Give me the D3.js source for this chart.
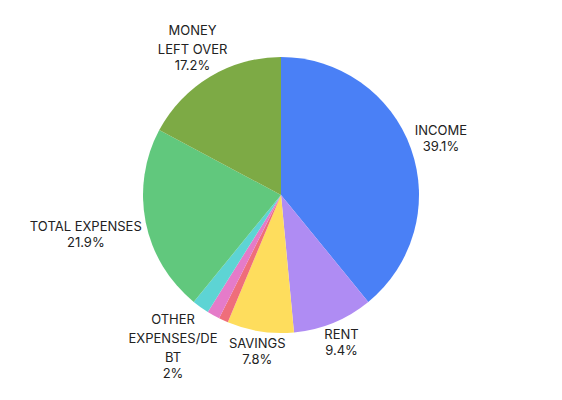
<!DOCTYPE html>
<html>
<head>
<meta charset="utf-8">
<script src="https://cdn.jsdelivr.net/npm/d3@7"></script>
<style>
html,body{margin:0;padding:0;background:#fff;}
svg{display:block;}
text{font-family:Inter,"Open Sans",sans-serif;font-size:13px;fill:#222;}
</style>
</head>
<body>
<svg id="chart" width="562" height="400"></svg>
<script>
const categories = ["INCOME","RENT","SAVINGS","UTILITIES","GROCERIES","OTHER EXPENSES/DEBT","TOTAL EXPENSES","MONEY LEFT OVER"];
const labelLines = [["INCOME"],["RENT"],["SAVINGS"],[],[],["OTHER","EXPENSES/DE","BT"],["TOTAL EXPENSES"],["MONEY","LEFT OVER"]];
const values = [39.1, 9.4, 7.8, 1.1, 1.5, 2.0, 21.9, 17.2];
const pctLabels = ["39.1%","9.4%","7.8%","","","2%","21.9%","17.2%"];
const colors = ["#4a80f6","#af8cf3","#fedd5d","#ef6e7a","#e57bc9","#5dd4d4","#61c87d","#7daa45"];

const svg = d3.select("#chart");
const cx = 281, cy = 195, R = 138;
const g = svg.append("g").attr("transform", `translate(${cx},${cy})`);

const pie = d3.pie().sort(null).value(d => d.v);
const data = pie(values.map((v,i) => ({v, i})));
const arc = d3.arc().innerRadius(0).outerRadius(R);

g.selectAll("path.slice").data(data).join("path")
  .attr("class","slice")
  .attr("d", arc)
  .attr("fill", d => colors[d.data.i]);

const nameLH = 19, pctLH = 16;
data.forEach(d => {
  const i = d.data.i;
  if (!pctLabels[i]) return;
  const lines = labelLines[i];
  const a = (d.startAngle + d.endAngle) / 2;
  const sx = Math.sin(a), sy = -Math.cos(a);
  const t = g.append("text").attr("text-anchor","middle");
  lines.forEach((ln, k) => t.append("tspan").attr("x",0).attr("y", k*nameLH).text(ln));
  t.append("tspan").attr("x",0).attr("y", (lines.length-1)*nameLH + pctLH).text(pctLabels[i]);
  const bb = t.node().getBBox();
  const hw = bb.width/2 + 1, hh = bb.height/2 + 1;
  const ox = bb.x + bb.width/2, oy = bb.y + bb.height/2;
  const ext = Math.min(Math.abs(sx) > 1e-6 ? hw/Math.abs(sx) : 1e9, Math.abs(sy) > 1e-6 ? hh/Math.abs(sy) : 1e9);
  const dist = R + 3 + ext;
  t.attr("transform", `translate(${sx*dist - ox},${sy*dist - oy})`);
});
</script>
</body>
</html>
